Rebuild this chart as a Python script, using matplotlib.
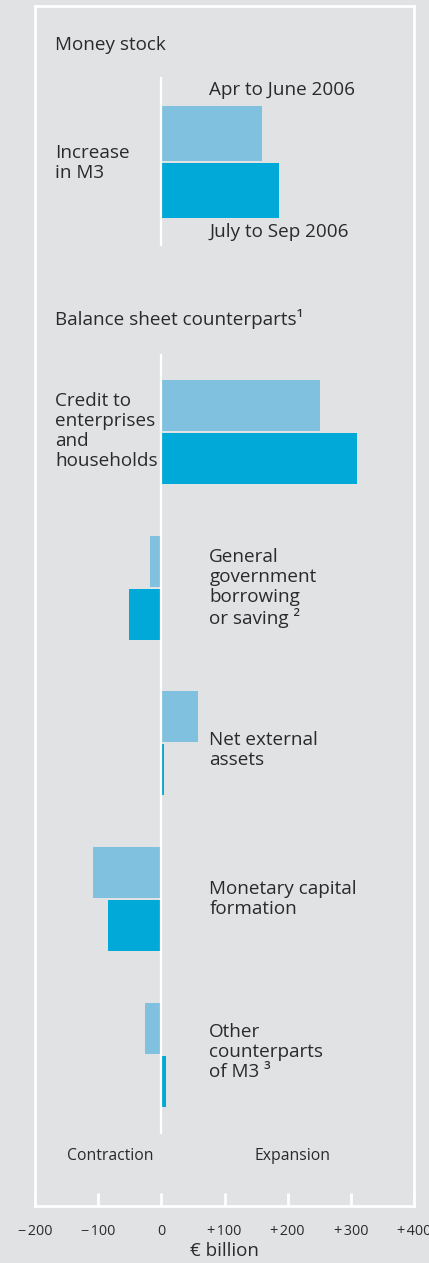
import matplotlib.pyplot as plt

# values (EUR billion)
periods = ["Apr to June 2006", "July to Sep 2006"]
money_q2 = 159
money_q3 = 186

counterparts = ["Credit to\nenterprises\nand\nhouseholds",
                "General\ngovernment\nborrowing\nor saving \u00b2",
                "Net external\nassets",
                "Monetary capital\nformation",
                "Other\ncounterparts\nof M3 \u00b3"]
counter_q2 = [251, -18, 58, -108, -26]
counter_q3 = [309, -51, 5, -85, 7]

tick_values = [-200, -100, 0, 100, 200, 300, 400]
tick_labels = ["\u2212\u200a200", "\u2212\u200a100", "0", "+\u200a100", "+\u200a200", "+\u200a300", "+\u200a400"]

light = "#80c1df"
dark = "#00a9d8"
bg = "#e1e2e4"
txt = "#2a2a2a"

plt.rcParams['font.family'] = ['Open Sans', 'DejaVu Sans']

fig = plt.figure(figsize=(4.29, 12.63), dpi=100, facecolor=bg)
ax = fig.add_axes([35 / 429, 57 / 1263, 379 / 429, 1200 / 1263])
ax.set_facecolor(bg)
ax.set_xlim(-200, 400)
ax.set_ylim(1200, 0)

# money stock group
money_center = 156
ax.barh(money_center - 28.5, money_q2, height=55, color=light, zorder=2)
ax.barh(money_center + 28.5, money_q3, height=55, color=dark, zorder=2)

# balance sheet counterparts
first_center = 426
step = 155.7
centers = [first_center + step * i for i in range(len(counterparts))]
ax.barh([c - 26.5 for c in centers], counter_q2, height=51, color=light, zorder=2)
ax.barh([c + 26.5 for c in centers], counter_q3, height=51, color=dark, zorder=2)

# zero lines
ax.plot([0, 0], [72, 239], color="white", lw=1.6, zorder=3)
ax.plot([0, 0], [349, 1127], color="white", lw=1.6, zorder=3)

fs = 13.6
ls = 1.14
x_left = -168
x_right = 76
ax.text(x_left, 44, "Money stock", fontsize=fs, color=txt, va="baseline")
ax.text(x_right, 89, periods[0], fontsize=fs, color=txt, va="baseline")
ax.text(x_right, 231, periods[1], fontsize=fs, color=txt, va="baseline")
ax.text(x_left, 172, "Increase\nin M3", fontsize=fs, color=txt, va="baseline", linespacing=ls)
ax.text(x_left, 319, "Balance sheet counterparts\u00b9", fontsize=fs, color=txt, va="baseline")

# baseline of the last line of each label
label_baselines = [460, 618, 759, 908, 1071]
for i, lab in enumerate(counterparts):
    x = x_left if counter_q3[i] > 100 else x_right
    ax.text(x, label_baselines[i], lab, fontsize=fs, color=txt, va="baseline", linespacing=ls)

ax.text(-81, 1154, "Contraction", fontsize=11.3, color=txt, ha="center", va="baseline")
ax.text(208, 1154, "Expansion", fontsize=11.3, color=txt, ha="center", va="baseline")

for side in ["left", "right", "top", "bottom"]:
    ax.spines[side].set_color("white")
    ax.spines[side].set_linewidth(2)
ax.set_yticks([])
ax.set_xticks(tick_values)
ax.set_xticklabels(tick_labels)
ax.tick_params(axis="x", direction="in", length=9.5, width=2, color="white",
               labelsize=10.4, labelcolor=txt, pad=13)
ax.set_xlabel("\u20ac billion", fontsize=13.5, color=txt, labelpad=2)

fig.savefig("out.png", dpi=100, facecolor=bg)
